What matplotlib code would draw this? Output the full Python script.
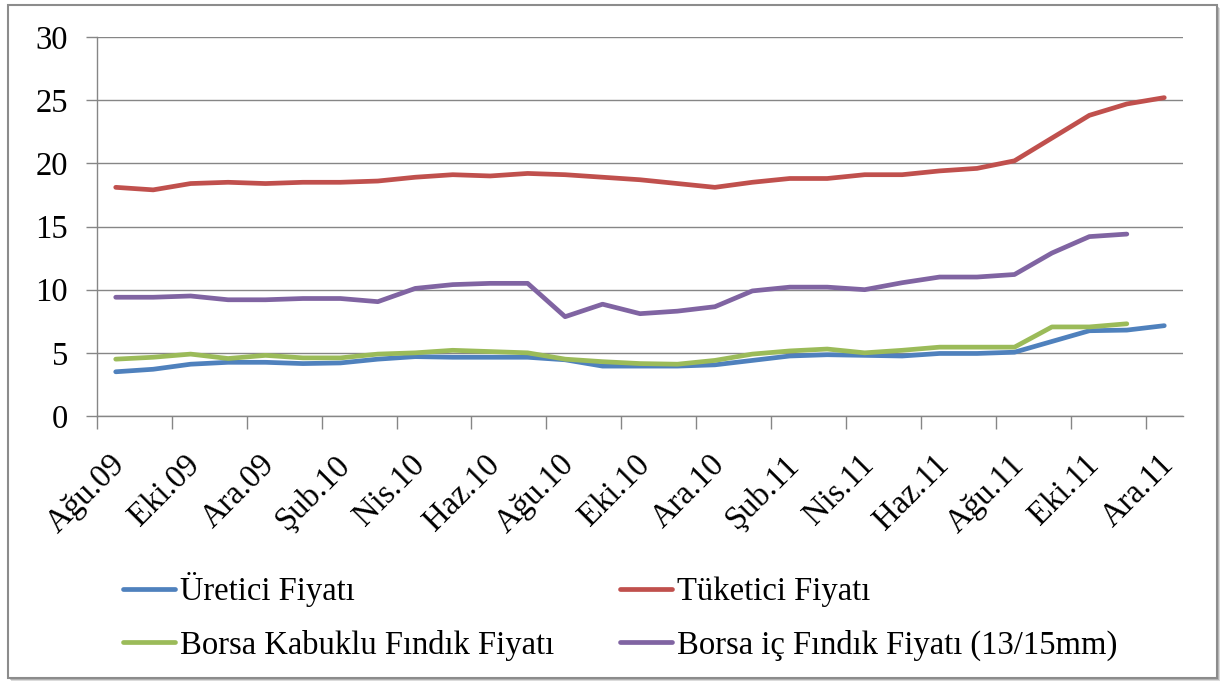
"""
Fındık fiyatları: üretici, tüketici ve borsa fiyatları (Ağu.09 - Ara.11)
"""

import matplotlib
matplotlib.use('Agg')
import matplotlib.pyplot as plt
import matplotlib.transforms as mtransforms
from matplotlib.patches import Rectangle

months = ['Ağu.09', 'Eyl.09', 'Eki.09', 'Kas.09', 'Ara.09', 'Oca.10', 'Şub.10', 'Mar.10',
          'Nis.10', 'May.10', 'Haz.10', 'Tem.10', 'Ağu.10', 'Eyl.10', 'Eki.10', 'Kas.10',
          'Ara.10', 'Oca.11', 'Şub.11', 'Mar.11', 'Nis.11', 'May.11', 'Haz.11', 'Tem.11',
          'Ağu.11', 'Eyl.11', 'Eki.11', 'Kas.11', 'Ara.11']

uretici = [3.5, 3.7, 4.1, 4.25, 4.25, 4.15, 4.2, 4.5, 4.7, 4.65, 4.65, 4.65, 4.45, 3.95, 3.95,
           3.95, 4.05, 4.4, 4.75, 4.85, 4.8, 4.75, 4.95, 4.95, 5.05, 5.9, 6.75, 6.8, 7.15]
tuketici = [18.1, 17.9, 18.4, 18.5, 18.4, 18.5, 18.5, 18.6, 18.9, 19.1, 19.0, 19.2, 19.1, 18.9,
            18.7, 18.4, 18.1, 18.5, 18.8, 18.8, 19.1, 19.1, 19.4, 19.6, 20.2, 22.0, 23.8, 24.7, 25.2]
kabuklu = [4.5, 4.65, 4.9, 4.55, 4.8, 4.6, 4.6, 4.9, 5.0, 5.2, 5.1, 5.0, 4.5, 4.3, 4.15,
           4.1, 4.4, 4.9, 5.15, 5.3, 5.0, 5.2, 5.45, 5.45, 5.45, 7.05, 7.05, 7.3]
ic_findik = [9.4, 9.4, 9.5, 9.2, 9.2, 9.3, 9.3, 9.05, 10.1, 10.4, 10.5, 10.5, 7.86, 8.85, 8.1,
             8.3, 8.65, 9.9, 10.2, 10.2, 10.0, 10.55, 11.0, 11.0, 11.2, 12.9, 14.2, 14.4]

names = ['Üretici Fiyatı', 'Tüketici Fiyatı', 'Borsa Kabuklu Fındık Fiyatı',
         'Borsa iç Fındık Fiyatı (13/15mm)']
colors = ['#4F81BD', '#C0504D', '#9BBB59', '#8064A2']

plt.rcParams['font.family'] = ['Liberation Serif', 'DejaVu Serif']
fs = 23.5
grey = '#868686'

fig = plt.figure(figsize=(12.21, 6.87), dpi=100)

# border with a soft shadow
for k, a in enumerate([0.25, 0.35, 0.5]):
    off = (3 - k) / 1221
    fig.patches.append(Rectangle((8 / 1221 + off, 9 / 687 - (3 - k) / 687), 1209 / 1221, 673 / 687,
                                 transform=fig.transFigure, facecolor='#707070', alpha=a,
                                 edgecolor='none', zorder=-3))
fig.patches.append(Rectangle((8 / 1221, 9 / 687), 1209 / 1221, 673 / 687,
                             transform=fig.transFigure, facecolor='white',
                             edgecolor='#8c8c8c', lw=1.5, zorder=-2))

ax = fig.add_axes([97 / 1221, 1 - 416 / 687, 1086 / 1221, 379 / 687])
ax.set_facecolor('none')

series = [uretici, tuketici, kabuklu, ic_findik]
for vals, name, c in zip(series, names, colors):
    ax.plot(range(len(vals)), vals, color=c, lw=3.4, label=name, solid_capstyle='round')

ax.set_xlim(-0.5, len(months) - 0.5)
ax.set_ylim(0, 30)
ax.set_yticks(range(0, 31, 5))
ax.yaxis.grid(True, color=grey, lw=1)
ax.set_axisbelow(True)

# ticks at category boundaries, labels at category centers
ax.set_xticks([i - 0.5 for i in range(0, len(months), 2)])
ax.set_xticklabels([])
ax.set_xticks(range(0, len(months), 2), minor=True)
ax.set_xticklabels(months[::2], minor=True, rotation=45, ha='right', va='top',
                   rotation_mode='anchor', fontsize=fs)
ax.tick_params(axis='x', which='major', length=9, color=grey, width=1)
ax.tick_params(axis='x', which='minor', length=0, pad=24)
ax.tick_params(axis='y', length=8, color=grey, width=1, pad=13, labelsize=fs)
shift = mtransforms.ScaledTranslation(-6 / 100, 0, fig.dpi_scale_trans)
for lab in ax.get_xticklabels(minor=True):
    lab.set_transform(lab.get_transform() + shift)

for s in ['top', 'right']:
    ax.spines[s].set_visible(False)
for s in ['left', 'bottom']:
    ax.spines[s].set_color(grey)
    ax.spines[s].set_linewidth(1)

# legend is filled row by row in the reference
h, l = ax.get_legend_handles_labels()
order = [0, 2, 1, 3]
fig.legend([h[i] for i in order], [l[i] for i in order], loc='upper left',
           bbox_to_anchor=(123 / 1221, 1 - 572 / 687), ncol=2,
           frameon=False, fontsize=fs, borderpad=0, borderaxespad=0, handlelength=1.6,
           handletextpad=0.15, columnspacing=2.0, labelspacing=0.7)

fig.savefig('out.png', dpi=100)
